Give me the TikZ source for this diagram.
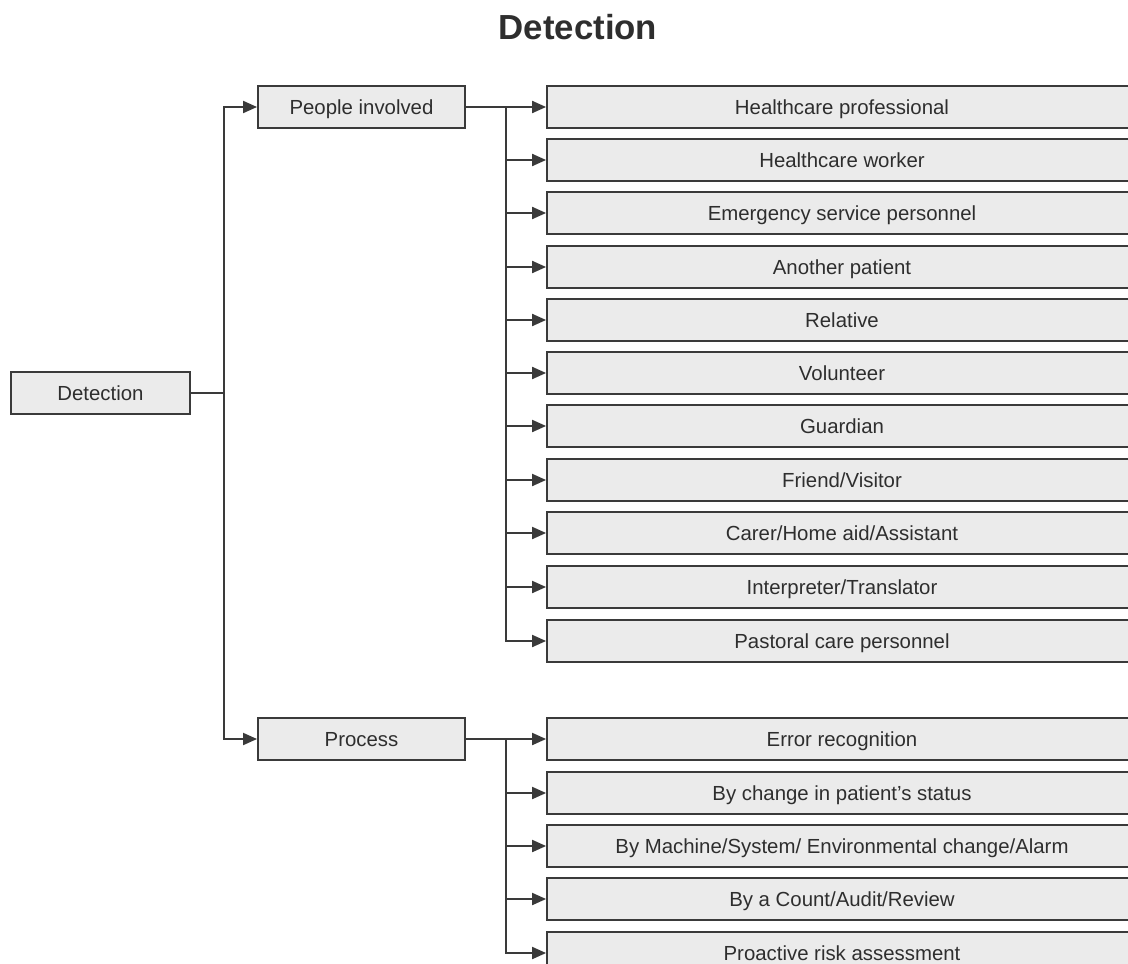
\documentclass[tikz,border=0pt]{standalone}
\usepackage{fontspec}
\setmainfont{Liberation Sans}
\usetikzlibrary{arrows.meta}
\definecolor{boxfill}{HTML}{EBEBEB}
\definecolor{boxline}{HTML}{3A3A3A}
\definecolor{txt}{HTML}{2E2E2E}
\begin{document}
\begin{tikzpicture}[x=0.02cm,y=-0.02cm,line width=1.1pt,draw=boxline]
  \tikzstyle{box}=[draw=boxline,fill=boxfill,text=txt,minimum height=0.84cm,inner sep=0pt,
    text height=8.3pt,text depth=0pt,font=\fontsize{11.6}{14}\selectfont]
  \tikzstyle{root}=[box,minimum width=3.58cm]
  \tikzstyle{mid}=[box,minimum width=4.14cm]
  \tikzstyle{leaf}=[box,minimum width=11.8cm]
  \tikzstyle{line}=[draw=boxline,-{Triangle[length=0.28cm,width=0.24cm]}]
  \clip (0,0) rectangle (1128,963);
  \node[text=txt,font=\fontsize{19.8}{24}\selectfont\bfseries,text height=14.2pt,text depth=0pt,inner sep=0pt] (title) at (578,27) {Detection};

  \node[root] (det) at (100.5,393) {Detection};
  \node[mid] (people) at (361.5,107) {People involved};
  \node[mid] (process) at (361.5,739) {Process};

  % people involved
  \node[leaf] (hp)  at (842,107) {Healthcare professional};
  \node[leaf] (hw)  at (842,160) {Healthcare worker};
  \node[leaf] (esp) at (842,213) {Emergency service personnel};
  \node[leaf] (ap)  at (842,267) {Another patient};
  \node[leaf] (rel) at (842,320) {Relative};
  \node[leaf] (vol) at (842,373) {Volunteer};
  \node[leaf] (gua) at (842,426) {Guardian};
  \node[leaf] (fv)  at (842,480) {Friend/Visitor};
  \node[leaf] (cha) at (842,533) {Carer/Home aid/Assistant};
  \node[leaf] (it)  at (842,587) {Interpreter/Translator};
  \node[leaf] (pcp) at (842,641) {Pastoral care personnel};

  % process
  \node[leaf] (er)  at (842,739) {Error recognition};
  \node[leaf] (cps) at (842,793) {By change in patient’s status};
  \node[leaf] (mse) at (842,846) {By Machine/System/ Environmental change/Alarm};
  \node[leaf] (car) at (842,899) {By a Count/Audit/Review};
  \node[leaf] (pra) at (842,953) {Proactive risk assessment};

  % trunk
  \coordinate (tp) at (224,393);
  \draw (det) -- (tp);
  \draw[line] (tp) |- (people);
  \draw[line] (tp) |- (process);

  % branches
  \coordinate (pb) at (506,107);
  \draw[line] (people) -- (hp);
  \draw[line] (pb) |- (hw);
  \draw[line] (pb) |- (esp);
  \draw[line] (pb) |- (ap);
  \draw[line] (pb) |- (rel);
  \draw[line] (pb) |- (vol);
  \draw[line] (pb) |- (gua);
  \draw[line] (pb) |- (fv);
  \draw[line] (pb) |- (cha);
  \draw[line] (pb) |- (it);
  \draw[line] (pb) |- (pcp);

  \coordinate (rb) at (506,739);
  \draw[line] (process) -- (er);
  \draw[line] (rb) |- (cps);
  \draw[line] (rb) |- (mse);
  \draw[line] (rb) |- (car);
  \draw[line] (rb) |- (pra);
\end{tikzpicture}
\end{document}
